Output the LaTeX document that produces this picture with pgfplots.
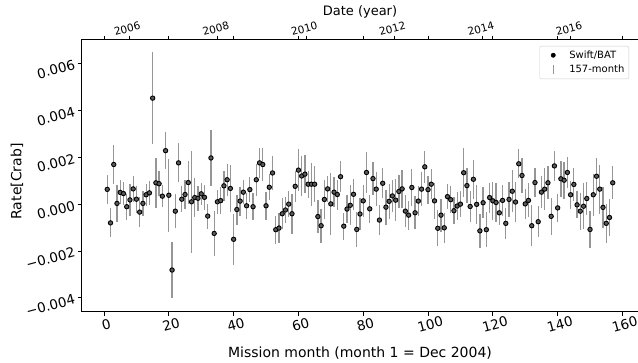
\documentclass[border=0pt]{standalone}
\usepackage{fontspec}
\setmainfont{DejaVu Sans}
\usepackage{pgfplots}
\usepackage{pgfplotstable}
\pgfplotsset{compat=1.18}

% monthly Swift/BAT rate: month, rate [Crab], 1-sigma error
\pgfplotstableread{
m v e
1 0.00063 0.00062
2 -0.00080 0.00062
3 0.00169 0.00083
4 0.00003 0.00080
5 0.00050 0.00051
6 0.00045 0.00048
7 -0.00011 0.00055
8 0.00018 0.00069
9 0.00065 0.00055
10 0.00021 0.00057
11 -0.00034 0.00064
12 0.00003 0.00053
13 0.00040 0.00046
14 0.00048 0.00050
15 0.00452 0.00195
16 0.00091 0.00106
17 0.00087 0.00053
18 0.00034 0.00048
19 0.00228 0.00078
20 0.00038 0.00155
21 -0.00281 0.00119
22 -0.00030 0.00072
23 0.00176 0.00083
24 0.00021 0.00055
25 0.00041 0.00060
26 0.00092 0.00092
27 0.00010 0.00217
28 0.00028 0.00085
29 0.00025 0.00053
30 0.00044 0.00048
31 0.00029 0.00053
32 -0.00051 0.00053
33 0.00197 0.00120
34 -0.00125 0.00097
35 0.00010 0.00050
36 0.00015 0.00057
37 0.00078 0.00064
38 0.00104 0.00069
39 0.00067 0.00100
40 -0.00150 0.00110
41 -0.00023 0.00064
42 0.00013 0.00062
43 0.00051 0.00051
44 -0.00007 0.00055
45 0.00062 0.00052
46 -0.00011 0.00057
47 0.00104 0.00069
48 0.00176 0.00065
49 0.00169 0.00069
50 -0.00007 0.00060
51 0.00072 0.00055
52 0.00133 0.00074
53 -0.00109 0.00060
54 -0.00102 0.00064
55 -0.00041 0.00067
56 -0.00025 0.00057
57 0.00000 0.00057
58 -0.00041 0.00085
59 0.00076 0.00067
60 0.00145 0.00089
61 0.00120 0.00085
62 0.00128 0.00080
63 0.00085 0.00057
64 0.00085 0.00092
65 0.00085 0.00078
66 -0.00053 0.00071
67 -0.00092 0.00073
68 0.00020 0.00085
69 0.00065 0.00057
70 0.00001 0.00132
71 0.00051 0.00064
72 0.00041 0.00064
73 0.00117 0.00067
74 -0.00094 0.00057
75 -0.00021 0.00060
76 -0.00005 0.00085
77 0.00042 0.00067
78 -0.00108 0.00074
79 -0.00042 0.00067
80 0.00014 0.00067
81 0.00135 0.00087
82 -0.00020 0.00060
83 0.00109 0.00071
84 0.00064 0.00074
85 -0.00068 0.00064
86 0.00089 0.00064
87 -0.00013 0.00074
88 0.00012 0.00074
89 0.00035 0.00067
90 0.00017 0.00089
91 0.00054 0.00071
92 0.00065 0.00082
93 -0.00030 0.00067
94 -0.00047 0.00062
95 0.00071 0.00078
96 -0.00037 0.00071
97 0.00013 0.00064
98 0.00064 0.00074
99 0.00159 0.00067
100 0.00062 0.00060
101 0.00085 0.00064
102 0.00014 0.00078
103 -0.00103 0.00076
104 -0.00047 0.00071
105 -0.00101 0.00064
106 0.00032 0.00053
107 0.00019 0.00057
108 -0.00028 0.00057
109 -0.00008 0.00058
110 0.00000 0.00057
111 0.00134 0.00104
112 0.00079 0.00074
113 -0.00010 0.00065
114 0.00106 0.00082
115 -0.00001 0.00083
116 -0.00114 0.00073
117 0.00006 0.00066
118 -0.00109 0.00074
119 0.00028 0.00064
120 0.00014 0.00081
121 0.00007 0.00084
122 -0.00037 0.00053
123 0.00016 0.00067
124 -0.00082 0.00067
125 0.00020 0.00074
126 0.00055 0.00090
127 0.00009 0.00085
128 0.00172 0.00061
129 0.00122 0.00074
130 0.00001 0.00064
131 0.00016 0.00072
132 -0.00092 0.00088
133 0.00092 0.00060
134 -0.00075 0.00067
135 0.00051 0.00067
136 0.00064 0.00090
137 0.00091 0.00071
138 -0.00052 0.00080
139 0.00163 0.00064
140 -0.00016 0.00059
141 0.00108 0.00078
142 0.00102 0.00078
143 0.00135 0.00066
144 0.00040 0.00060
145 0.00084 0.00069
146 -0.00003 0.00057
147 -0.00030 0.00079
148 -0.00009 0.00099
149 0.00024 0.00072
150 -0.00108 0.00077
151 0.00040 0.00090
152 0.00119 0.00078
153 0.00064 0.00104
154 -0.00014 0.00087
155 -0.00082 0.00082
156 -0.00057 0.00078
157 0.00091 0.00071
}\ratetable

\definecolor{bargray}{RGB}{150,150,150}
\definecolor{markfill}{RGB}{90,90,90}

\begin{document}
\begin{tikzpicture}
\path[use as bounding box] (-82pt,-51pt) rectangle (556pt,312pt);

% bottom axis: mission month
\begin{axis}[
  at={(0pt,0pt)}, anchor=south west,
  scale only axis, width=556pt, height=272pt,
  xmin=-6.8, xmax=164.8, ymin=-0.0046, ymax=0.0070,
  axis line style={line width=1pt, black},
  tick align=outside, major tick length=4pt,
  tick style={line width=0.9pt, black},
  xtick={0,20,...,160},
  xticklabels={0,20,40,60,80,100,120,140,160},
  ytick={-0.004,-0.002,0,0.002,0.004,0.006},
  yticklabels={−0.004,−0.002,0.000,0.002,0.004,0.006},
  scaled y ticks=false, scaled x ticks=false,
  xticklabel style={font=\fontsize{13.5}{15}\selectfont, rotate=15, anchor=north},
  yticklabel style={font=\fontsize{13.5}{15}\selectfont, rotate=15, anchor=east},
  xlabel={Mission month (month 1 = Dec 2004)},
  ylabel={Rate[Crab]},
  label style={font=\fontsize{14}{16}\selectfont},
  x label style={at={(axis description cs:0.5,-0.151)}, anchor=center},
  y label style={at={(axis description cs:-0.117,0.48)}, anchor=center},
  legend style={
    at={(axis description cs:0.984,0.978)}, anchor=north east,
    draw=black!20, rounded corners=2pt, fill=white,
    font=\fontsize{10}{12}\selectfont,
    row sep=1.5pt, inner sep=2.5pt,
  },
  legend cell align=left,
]
\addplot[forget plot, only marks, mark=*, mark size=2.2pt,
  mark options={draw=black, fill=markfill, line width=0.9pt},
  error bars/.cd, y dir=both, y explicit, error mark=none,
  error bar style={line width=1.3pt, bargray}]
  table[x=m, y=v, y error=e] {\ratetable};

\addlegendimage{legend image code/.code={
  \path[draw=none, fill=none] (0pt,-4.5pt) rectangle (25pt,4.5pt);
  \fill[black] (11pt,0pt) circle (2.2pt);}}
\addlegendentry{Swift/BAT}
\addlegendimage{legend image code/.code={
  \path[draw=none, fill=none] (0pt,-4.5pt) rectangle (25pt,4.5pt);
  \draw[bargray, line width=1pt] (11pt,-4.5pt) -- (11pt,4.5pt);}}
\addlegendentry{157-month}
\end{axis}

% top axis: calendar year
\begin{axis}[
  at={(0pt,0pt)}, anchor=south west,
  scale only axis, width=556pt, height=272pt,
  xmin=-6.8, xmax=164.8, ymin=0, ymax=1,
  axis x line*=top, axis y line=none,
  axis line style={line width=1pt, black},
  tick align=outside, major tick length=4pt,
  tick style={line width=0.9pt, black},
  xtick={7.75,35.1,62.4,89.6,116.9,144.1},
  xticklabels={2006,2008,2010,2012,2014,2016},
  xticklabel style={font=\fontsize{10.5}{12}\selectfont, rotate=15, anchor=south},
  xlabel={Date (year)},
  x label style={at={(axis description cs:0.5,1.103)}, anchor=center,
    font=\fontsize{13}{15}\selectfont},
]
\end{axis}
\end{tikzpicture}
\end{document}
